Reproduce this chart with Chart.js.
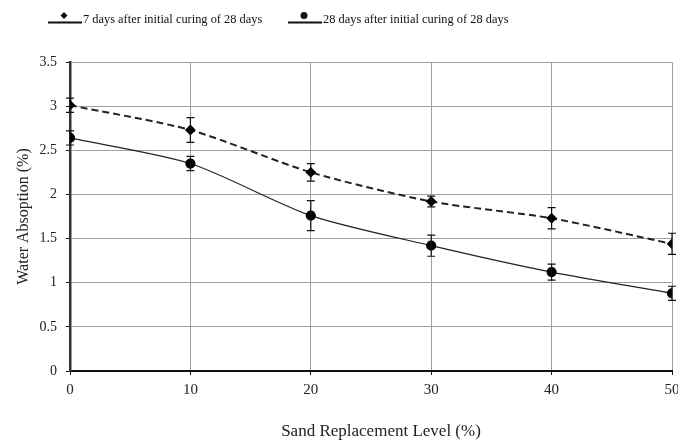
<!DOCTYPE html>
<html>
<head>
<meta charset="utf-8">
<script src="https://cdn.jsdelivr.net/npm/chart.js@4/dist/chart.umd.min.js"></script>
<style>
  html, body { margin: 0; padding: 0; background: #fff; }
  #wrap { width: 678px; height: 445px; }
</style>
</head>
<body>
<div id="wrap"><canvas id="chart"></canvas></div>
<script>
const sandLevels = [0, 10, 20, 30, 40, 50];
const days7 = [3.01, 2.73, 2.25, 1.92, 1.73, 1.44];
const days7Err = [0.08, 0.14, 0.10, 0.06, 0.12, 0.12];
const days28 = [2.64, 2.35, 1.76, 1.42, 1.12, 0.88];
const days28Err = [0.08, 0.08, 0.17, 0.12, 0.09, 0.08];
const legendLabels = ['7 days after initial curing of 28 days', '28 days after initial curing of 28 days'];
const xTitle = 'Sand Replacement Level (%)';
const yTitle = 'Water Absoption (%)';

const serif = '"Liberation Serif", "Times New Roman", serif';

// error bars drawn from the data through the chart scales
const errorBars = {
    id: 'errorBars',
    afterDatasetsDraw(chart) {
        const { ctx, scales: { x, y } } = chart;
        const errs = [days7Err, days28Err];
        ctx.save();
        ctx.strokeStyle = '#111';
        ctx.lineWidth = 1.2;
        chart.data.datasets.forEach((ds, i) => {
            ds.data.forEach((p, j) => {
                const px = x.getPixelForValue(p.x);
                const top = y.getPixelForValue(p.y + errs[i][j]);
                const bot = y.getPixelForValue(p.y - errs[i][j]);
                ctx.beginPath();
                ctx.moveTo(px, top); ctx.lineTo(px, bot);
                ctx.moveTo(px - 4, top); ctx.lineTo(px + 4, top);
                ctx.moveTo(px - 4, bot); ctx.lineTo(px + 4, bot);
                ctx.stroke();
            });
        });
        ctx.restore();
    }
};

// legend in the style of the original: short line with marker, then text
// plus the x axis title, which sits off-centre in the original
const topLegend = {
    id: 'topLegend',
    afterDraw(chart) {
        const ctx = chart.ctx;
        const items = [
            { x: 48, style: 'rectRot', label: legendLabels[0] },
            { x: 288, style: 'circle', label: legendLabels[1] }
        ];
        ctx.save();
        items.forEach(it => {
            ctx.strokeStyle = '#111';
            ctx.lineWidth = 2;
            ctx.beginPath();
            ctx.moveTo(it.x, 22.5);
            ctx.lineTo(it.x + 34, 22.5);
            ctx.stroke();
            ctx.fillStyle = '#111';
            Chart.helpers.drawPoint(ctx, { pointStyle: it.style, radius: 3.5, borderWidth: 0 }, it.x + 16, 15.5);
            ctx.font = '12.4px ' + serif;
            ctx.textBaseline = 'alphabetic';
            ctx.textAlign = 'left';
            ctx.fillText(it.label, it.x + 35, 22.5);
        });
        ctx.fillStyle = '#222';
        ctx.font = '17px ' + serif;
        ctx.textAlign = 'center';
        ctx.textBaseline = 'middle';
        ctx.fillText(xTitle, 381, 432);
        ctx.restore();
    }
};

new Chart(document.getElementById('chart'), {
    type: 'line',
    data: {
        datasets: [
            {
                label: legendLabels[0],
                data: sandLevels.map((s, i) => ({ x: s, y: days7[i] })),
                borderColor: '#222',
                borderWidth: 2,
                borderDash: [7, 4],
                tension: 0.25,
                pointStyle: 'rectRot',
                pointRadius: 4,
                pointBackgroundColor: '#000',
                pointBorderColor: '#000'
            },
            {
                label: legendLabels[1],
                data: sandLevels.map((s, i) => ({ x: s, y: days28[i] })),
                borderColor: '#222',
                borderWidth: 1.2,
                tension: 0.25,
                pointStyle: 'circle',
                pointRadius: 4.5,
                pointBackgroundColor: '#000',
                pointBorderColor: '#000'
            }
        ]
    },
    options: {
        responsive: true,
        maintainAspectRatio: false,
        animation: false,
        layout: { padding: { top: 62, right: 0, bottom: 0, left: 0 } },
        plugins: {
            legend: { display: false },
            tooltip: { enabled: false }
        },
        scales: {
            x: {
                type: 'linear',
                min: 0,
                max: 50,
                afterFit: s => { s.height = 74; s.paddingRight = 6; s.paddingLeft = 0; },
                ticks: {
                    stepSize: 10,
                    padding: 6,
                    color: '#222',
                    font: { family: serif, size: 15 }
                },
                grid: { color: '#a0a0a0', lineWidth: 1, tickLength: 4, tickColor: '#111' },
                border: { color: '#111', width: 2 },
                title: { display: false }
            },
            y: {
                min: 0,
                max: 3.5,
                afterFit: s => { s.width = 70; },
                ticks: {
                    stepSize: 0.5,
                    padding: 9,
                    color: '#222',
                    font: { family: serif, size: 14 },
                    callback: v => String(v)
                },
                grid: { color: '#a0a0a0', lineWidth: 1, tickLength: 4, tickColor: '#111' },
                border: { color: '#333', width: 2.5 },
                title: {
                    display: true,
                    text: yTitle,
                    color: '#222',
                    font: { family: serif, size: 16 },
                    padding: { top: 14, bottom: 0 }
                }
            }
        }
    },
    plugins: [errorBars, topLegend]
});
</script>
</body>
</html>
